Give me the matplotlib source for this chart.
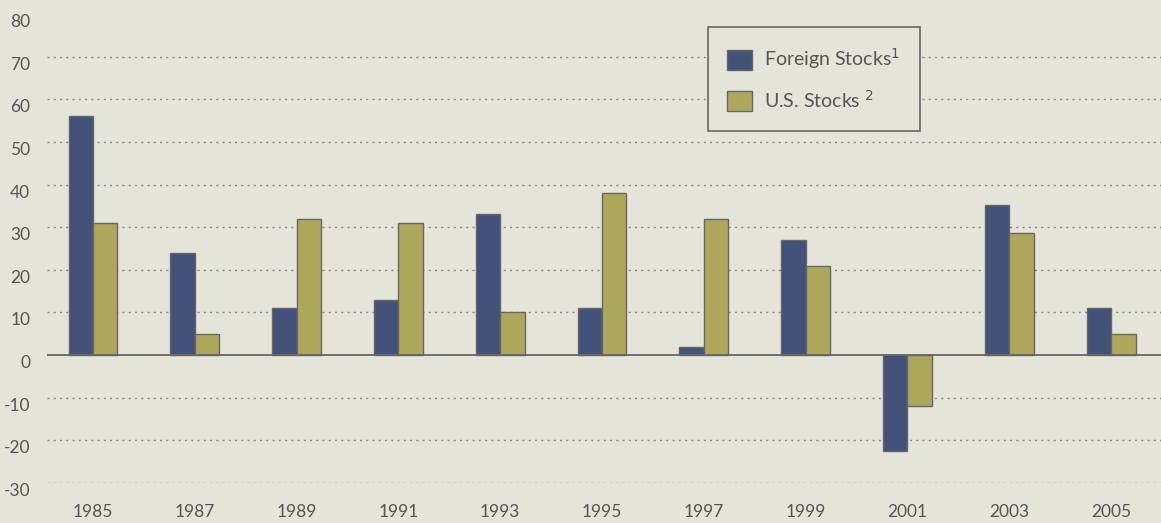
from matplotlib import pyplot as plt
import numpy as np

years = ['1985', '1987', '1989', '1991', '1993', '1995', '1997', '1999', '2001', '2003', '2005']
foreign = [56, 24, 11, 13, 33, 11, 2, 27, -22.5, 35.3, 11]
us = [31, 5, 32, 31, 10, 38, 32, 21, -12, 28.7, 5]
yticks = [-30, -20, -10, 0, 10, 20, 30, 40, 50, 60, 70, 80]

bg = '#e5e4d9'
navy = '#435279'
olive = '#ada75b'

plt.rcParams['font.family'] = ['Lato', 'DejaVu Sans']

fig = plt.figure(figsize=(11.61, 5.23), dpi=100, facecolor=bg)
ax = fig.add_axes([47 / 1161, 40 / 523, 1 - 47 / 1161, 469 / 523])
ax.set_facecolor(bg)

x = np.arange(len(years))
w = 0.24
ax.bar(x - w / 2, foreign, w, color=navy, edgecolor='#666666', linewidth=1, label='Foreign Stocks$^1$', zorder=3)
ax.bar(x + w / 2, us, w, color=olive, edgecolor='#666666', linewidth=1, label='U.S. Stocks $^2$', zorder=3)

ax.set_xlim(-0.452, 10.49)
ax.set_ylim(-30, 80)

for t in yticks:
    if t == 0:
        ax.axhline(0, color='#666666', linewidth=1.3, zorder=4)
    elif t != 80:
        ax.axhline(t, color='#888888', linewidth=1, linestyle=(0, (1.5, 3)), zorder=1)

ax.set_yticks(yticks)
ax.set_yticklabels([str(t) for t in yticks])
ax.set_xticks(x)
ax.set_xticklabels(years)
ax.tick_params(length=0, labelsize=12.5, colors='#555555')
ax.tick_params(axis='y', pad=12)
ax.tick_params(axis='x', pad=15)
# numbers sit a little below their gridlines, as in the original
for lbl in ax.get_yticklabels():
    lbl.set_verticalalignment('top')
for s in ax.spines.values():
    s.set_visible(False)

leg = ax.legend(loc='upper left', bbox_to_anchor=(661 / 1114, 1 - 13 / 469), fontsize=14,
                frameon=True, fancybox=False, edgecolor='#666666', facecolor=bg,
                framealpha=1, borderpad=1.0, borderaxespad=0, labelspacing=0.9,
                handlelength=1.25, handleheight=1.2, handletextpad=0.65, labelcolor='#555555')
leg.get_frame().set_linewidth(1.2)

plt.savefig('out.png', dpi=100, facecolor=bg)
